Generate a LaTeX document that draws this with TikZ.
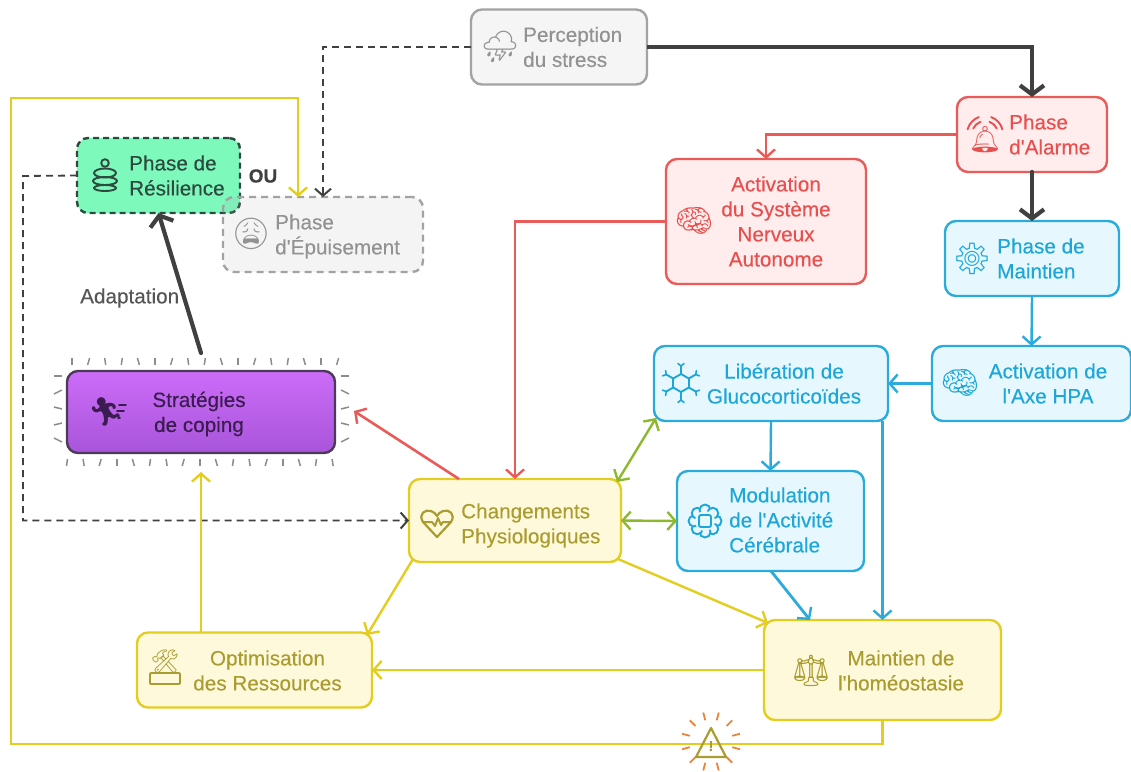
\documentclass[tikz,border=0pt]{standalone}
\usepackage{fontspec}
\setmainfont[FakeBold=0.25,Ligatures=TeXOff]{Liberation Sans}
\newfontfamily\iconfont{Noto Emoji}
\usetikzlibrary{arrows.meta}
\definecolor{redline}{HTML}{E85B58}
\definecolor{redfill}{HTML}{FFECEC}
\definecolor{redtext}{HTML}{E8504F}
\definecolor{blueline}{HTML}{2BABDB}
\definecolor{bluefill}{HTML}{E6F8FE}
\definecolor{bluetext}{HTML}{1FA6D9}
\definecolor{yellowline}{HTML}{E3CE1F}
\definecolor{yellowfill}{HTML}{FFF9DC}
\definecolor{yellowtext}{HTML}{A99C30}
\definecolor{grayline}{HTML}{A3A3A3}
\definecolor{grayfill}{HTML}{F5F5F5}
\definecolor{graytext}{HTML}{929292}
\definecolor{darkline}{HTML}{404040}
\definecolor{adaptgray}{HTML}{555555}
\definecolor{greenline}{HTML}{8DB92F}
\definecolor{mintfill}{HTML}{7DF9BC}
\definecolor{minttext}{HTML}{2C4A3D}
\definecolor{purpletop}{HTML}{CC6CF8}
\definecolor{purplebottom}{HTML}{A855DA}
\definecolor{purpleline}{HTML}{4B3A58}
\definecolor{purpletext}{HTML}{3A1C50}
\definecolor{rayorange}{HTML}{E8853C}
\tikzset{
  box/.style={draw, rounded corners=11pt, line width=2.4pt, inner sep=0pt, outer sep=0pt},
  redbox/.style={box, draw=redline, fill=redfill},
  bluebox/.style={box, draw=blueline, fill=bluefill},
  yellowbox/.style={box, draw=yellowline, fill=yellowfill},
  graybox/.style={box, draw=grayline, fill=grayfill},
  label/.style={font=\fontsize{20.7}{25}\selectfont, inner sep=0pt},
  icon/.style={font=\iconfont\fontsize{31}{31}\selectfont, inner sep=0pt},
  thin tip/.style={-{Straight Barb[length=8pt,width=18pt,line width=2.4pt]}},
  fat tip/.style={line width=4.2pt, line cap=round, -{Straight Barb[length=9pt,width=24pt,line width=4.2pt]}},
  redarrow/.style={thin tip, draw=redline, line width=2.2pt},
  bluearrow/.style={thin tip, draw=blueline, line width=2.4pt},
  yellowarrow/.style={thin tip, draw=yellowline, line width=2.4pt},
  greenarrow/.style={{Straight Barb[length=8pt,width=18pt,line width=2.4pt]}-{Straight Barb[length=8pt,width=18pt,line width=2.4pt]}, draw=greenline, line width=2.4pt},
  darkarrow/.style={fat tip, draw=darkline},
  dasharrow/.style={-{Straight Barb[length=7pt,width=16pt,line width=2pt]}, draw=darkline, line width=1.8pt, dash pattern=on 7pt off 5pt},
  ray/.style={draw=gray!90, line width=1.5pt},
  warnray/.style={draw=rayorange, line width=1.8pt},
  iconline/.style={line width=1.9pt, line join=round, line cap=round}
}
\begin{document}
\begin{tikzpicture}[x=1pt,y=-1pt]
  \useasboundingbox (0,0) rectangle (1131,771);
  % boxes
  \node[graybox, minimum width=176pt, minimum height=75pt] (perception) at (559,47) {};
  \node[redbox, minimum width=150pt, minimum height=75pt] (alarme) at (1032,134.5) {};
  \node[redbox, minimum width=200pt, minimum height=125pt] (systeme) at (766,221.5) {};
  \node[bluebox, minimum width=174pt, minimum height=75pt] (maintien) at (1032,258.5) {};
  \node[bluebox, minimum width=199pt, minimum height=75pt] (axe) at (1031.5,383.5) {};
  \node[bluebox, minimum width=234pt, minimum height=75pt] (liberation) at (771,383.5) {};
  \node[bluebox, minimum width=187pt, minimum height=100pt] (modulation) at (770.5,521) {};
  \node[yellowbox, minimum width=237pt, minimum height=100pt] (homeostasie) at (882.5,670) {};
  \node[yellowbox, minimum width=212pt, minimum height=83pt] (changements) at (515,520.5) {};
  \node[yellowbox, minimum width=235pt, minimum height=75pt] (optimisation) at (254.5,670) {};
  \node[box, draw=purpleline, top color=purpletop, bottom color=purplebottom, minimum width=268pt, minimum height=82pt] (coping) at (201,412) {};
  \node[box, draw=minttext, fill=mintfill, dash pattern=on 6pt off 4pt, minimum width=163pt, minimum height=75pt] (resilience) at (158.5,175.5) {};
  \node[box, draw=grayline, fill=gray!70, fill opacity=.12, dash pattern=on 7pt off 5pt, minimum width=200pt, minimum height=75pt] (epuisement) at (323,234.5) {};
  % free ends
  \coordinate (copingtop) at (201,353);
  \coordinate (copingbottom) at (201,472);
  \coordinate (copingright) at (354,411);
  \coordinate (redstart) at (459,479);
  \coordinate (modout) at (771,571);
  \coordinate (modin) at (810,620);
  \coordinate (libout) at (656,418);
  \coordinate (chgout) at (617,482);
  \coordinate (chgyellow) at (618,559);
  \coordinate (homeoin) at (768,623);
  \coordinate (chgleft) at (413,559);
  \coordinate (optin) at (367,635);
  \coordinate (looptop) at (11,98);
  \coordinate (loopbottom) at (11,744);
  \coordinate (loopend) at (298,197);
  \coordinate (resleft) at (23,176);
  % connectors
  \draw[darkarrow, line cap=butt] (perception.east) -| (alarme.north);
  \draw[darkarrow] (alarme.south) -- (maintien.north);
  \draw[darkarrow] (copingtop) -- (resilience.south);
  \draw[dasharrow] (perception.west) -| (epuisement.north);
  \draw[dasharrow] (resilience.west) -- (resleft) |- (changements.west);
  \draw[redarrow] (alarme.west) -| (systeme.north);
  \draw[redarrow] (systeme.west) -| (changements.north);
  \draw[redarrow, line width=2.6pt] (redstart) -- (copingright);
  \draw[bluearrow] (maintien.south) -- (axe.north);
  \draw[bluearrow] (axe.west) -- (liberation.east);
  \draw[bluearrow] (liberation.south) -- (modulation.north);
  \draw[bluearrow, line width=2.8pt] (homeostasie.north |- liberation.south) -- (homeostasie.north);
  \draw[bluearrow, line width=2.8pt] (modout) -- (modin);
  \draw[greenarrow] (chgout) -- (libout);
  \draw[greenarrow] (changements.east) -- (modulation.west);
  \draw[yellowarrow] (chgyellow) -- (homeoin);
  \draw[yellowarrow] (chgleft) -- (optin);
  \draw[yellowarrow] (homeostasie.west) -- (optimisation.east);
  \draw[yellowarrow] (optimisation.north -| coping.south) -- (copingbottom);
  \draw[yellowarrow, line width=2.8pt] (homeostasie.south) |- (loopbottom) -- (looptop) -| (loopend);
  % rays round the purple box
  \foreach \px [count=\i] in {72,88.6,...,340} {
    \pgfmathsetmacro{\tilt}{mod(\i*7,5)-2}
    \draw[ray] ({\px+\tilt/2},358) -- ({\px-\tilt/2},365);
    \pgfmathsetmacro{\tilt}{mod(\i*3,5)-2}
    \draw[ray] ({\px-5+\tilt/2},459) -- ({\px-5-\tilt/2},466);
  }
  \foreach \py [count=\i] in {376,392,...,452} {
    \pgfmathsetmacro{\tilt}{mod(\i*2,5)-2}
    \draw[ray] (54,{\py+\tilt}) -- (62,{\py-\tilt});
    \draw[ray] (341,{\py-\tilt}) -- (349,{\py+\tilt});
  }
  % warning sign
  \foreach \a in {15,45,...,345} {
    \draw[warnray] (711,741.5) ++(\a:22) -- ++(\a:8);
  }
  \draw[draw=yellowtext, line width=2.2pt, line join=round] (711,728) -- (726,757) -- (696,757) -- cycle;
  \node[font=\fontsize{14}{14}\selectfont\bfseries, text=yellowtext, inner sep=0pt] (warning) at (711,746) {!};
  % icons
  \node[icon, text=graytext] (iconperception) at (500,47) {⛈};
  \node[icon, text=redtext, font=\iconfont\fontsize{26}{26}\selectfont] (iconalarme) at (985,140) {🔔};
  \draw[iconline, draw=redtext] (985,134) ++(205:13) arc[start angle=205, end angle=250, radius=13];
  \draw[iconline, draw=redtext] (985,134) ++(195:18) arc[start angle=195, end angle=250, radius=18];
  \draw[iconline, draw=redtext] (985,134) ++(290:13) arc[start angle=290, end angle=335, radius=13];
  \draw[iconline, draw=redtext] (985,134) ++(290:18) arc[start angle=290, end angle=345, radius=18];
  \node[icon, text=redtext] (iconsysteme) at (694,221) {🧠};
  \node[icon, text=bluetext] (iconmaintien) at (972,259) {⚙};
  \node[icon, text=bluetext] (iconaxe) at (960,383) {🧠};
  % molecule
  \foreach \a in {30,90,...,330} {
    \draw[iconline, draw=bluetext] (681,383) ++(\a:9) -- ++(\a:8);
    \draw[iconline, draw=bluetext] (681,383) ++(\a:9) -- ++(\a+120:9);
    \draw[iconline, draw=bluetext, line width=1.6pt] (681,383) ++(\a:17) -- ++(\a+50:4);
    \draw[iconline, draw=bluetext, line width=1.6pt] (681,383) ++(\a:17) -- ++(\a-50:4);
  }
  % brain chip
  \foreach \a in {0,45,...,315} {
    \draw[iconline, draw=bluetext, fill=bluefill] (705,521) ++(\a:11) circle[radius=5.5];
  }
  \fill[bluefill] (705,521) circle[radius=10];
  \draw[iconline, draw=bluetext, rounded corners=2pt] (699,515) rectangle (711,527);
  % heart with pulse
  \draw[iconline, draw=yellowtext, line width=2.2pt] (437,537) -- (423,522) .. controls (418,514) and (425,509) .. (431,511) .. controls (434,512) and (436,514) .. (437,516) .. controls (438,514) and (440,512) .. (443,511) .. controls (449,509) and (456,514) .. (451,522) -- cycle;
  \draw[iconline, draw=yellowtext, line width=2pt] (423,522) -- (432,522) -- (435,526) -- (438,518) -- (441,525) -- (443,522) -- (451,522);
  % toolbox
  \node[icon, text=yellowtext, font=\iconfont\fontsize{23}{23}\selectfont] (iconoptimisation) at (165,662) {🛠};
  \draw[iconline, draw=yellowtext, fill=yellowfill, rounded corners=1pt] (150,673) rectangle (180,684);
  \node[icon, text=yellowtext] (iconhomeostasie) at (811,671) {⚖};
  % runner with speed lines
  \node[icon, text=purpletext, font=\iconfont\fontsize{28}{28}\selectfont] (iconcoping) at (106,412) {🏃};
  \draw[iconline, draw=purpletext] (119,405) -- (126,405);
  \draw[iconline, draw=purpletext] (117,411) -- (124,411);
  \draw[iconline, draw=purpletext] (118,418) -- (120,418);
  % sitting figure
  \draw[iconline, draw=minttext] (105,163) circle[radius=3.8];
  \draw[iconline, draw=minttext] (105,173) ellipse[x radius=11, y radius=4.5];
  \draw[iconline, draw=minttext] (105,181) ellipse[x radius=12, y radius=4];
  \draw[iconline, draw=minttext] (105,188) ellipse[x radius=11, y radius=3];
  \node[icon, text=graytext] (iconepuisement) at (251,234) {😩};
  % labels
  \node[label, text=graytext, align=left, anchor=west] (textperception) at (523,47) {Perception\\du stress};
  \node[label, text=redtext, align=left, anchor=west] (textalarme) at (1009,134.5) {Phase\\d'Alarme};
  \node[label, text=redtext, align=center] (textsysteme) at (776,221.5) {Activation\\du Système\\Nerveux\\Autonome};
  \node[label, text=bluetext, align=left, anchor=west] (textmaintien) at (997,258.5) {Phase de\\Maintien};
  \node[label, text=bluetext, align=center] (textaxe) at (1048,383.5) {Activation de\\l'Axe HPA};
  \node[label, text=bluetext, align=center] (textliberation) at (784,383.5) {Libération de\\Glucocorticoïdes};
  \node[label, text=bluetext, align=left, anchor=west] (textmodulation) at (729,520) {Modulation\\de l'Activité\\Cérébrale};
  \node[label, text=yellowtext, align=center] (texthomeostasie) at (901,670.5) {Maintien de\\l'homéostasie};
  \node[label, text=yellowtext, align=left, anchor=west] (textchangements) at (461,525.5) {Changements\\Physiologiques};
  \node[label, text=yellowtext, align=center] (textoptimisation) at (267.5,670.5) {Optimisation\\des Ressources};
  \node[label, text=purpletext, align=center] (textcoping) at (199,414) {Stratégies\\de coping};
  \node[label, text=minttext, align=left, anchor=west] (textresilience) at (129,175.5) {Phase de\\Résilience};
  \node[label, text=graytext, align=left, anchor=west] (textepuisement) at (275,236.5) {Phase\\d'Épuisement};
  \node[label, text=adaptgray, anchor=west] (adaptation) at (80,298) {Adaptation};
  \node[label, text=darkline, font=\fontsize{19}{25}\selectfont\bfseries] (ou) at (263,176) {OU};
\end{tikzpicture}
\end{document}
